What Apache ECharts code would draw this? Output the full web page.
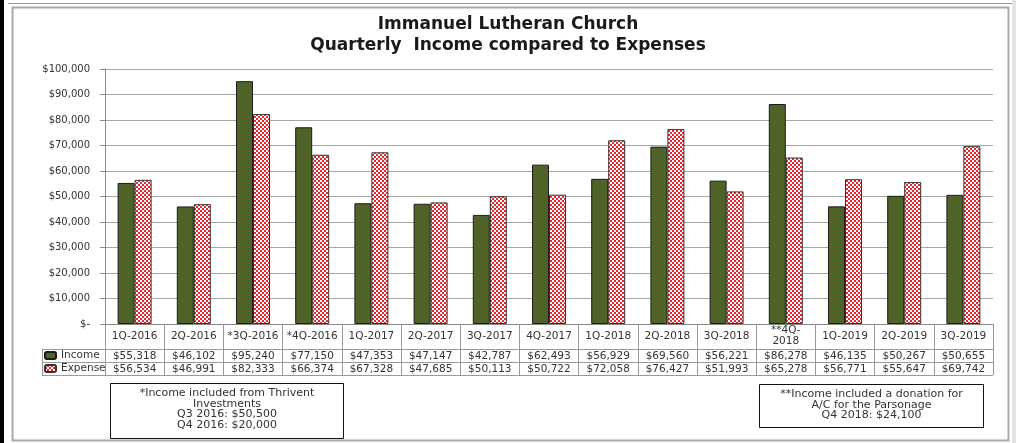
<!DOCTYPE html>
<html>
<head>
<meta charset="utf-8">
<title>Immanuel Lutheran Church</title>
<script src="https://cdn.jsdelivr.net/npm/echarts@6.0.0/dist/echarts.min.js"></script>
<style>
    html, body { margin: 0; padding: 0; background: #fff; }
    #chartBox { width: 1016px; height: 443px; }
</style>
</head>
<body>
<div id="chartBox"></div>
<script>
// 季度分类
var quarters = ['1Q-2016', '2Q-2016', '*3Q-2016', '*4Q-2016', '1Q-2017', '2Q-2017', '3Q-2017', '4Q-2017',
    '1Q-2018', '2Q-2018', '3Q-2018', '**4Q-\n2018', '1Q-2019', '2Q-2019', '3Q-2019'];
// 收入
var income = [55318, 46102, 95240, 77150, 47353, 47147, 42787, 62493, 56929, 69560, 56221, 86278, 46135, 50267, 50655];
// 支出
var expense = [56534, 46991, 82333, 66374, 67328, 47685, 50113, 50722, 72058, 76427, 51993, 65278, 56771, 55647, 69742];
// y轴刻度
var yTicks = [0, 10000, 20000, 30000, 40000, 50000, 60000, 70000, 80000, 90000, 100000];
// 备注
var noteLeft = ['*Income included from Thrivent', 'Investments', 'Q3 2016: $50,500', 'Q4 2016: $20,000'];
var noteRight = ['**Income included a donation for', 'A/C for the Parsonage', 'Q4 2018: $24,100'];

var FONT = 'DejaVu Sans';
var TABLE_SIZE = 10.5;

function money(v) {
    return '$' + v.toLocaleString('en-US');
}

// 红白格子填充
function checker() {
    var c = document.createElement('canvas');
    c.width = 4;
    c.height = 4;
    var ctx = c.getContext('2d');
    ctx.fillStyle = '#e8262e';
    ctx.fillRect(0, 0, 4, 4);
    ctx.fillStyle = '#ffffff';
    ctx.fillRect(0, 0, 2, 2);
    ctx.fillRect(2, 2, 2, 2);
    return { image: c, repeat: 'repeat' };
}

// 表格下面的行（用轴标签来画）
function rowAxis(offset, values) {
    return {
        type: 'category',
        data: quarters,
        position: 'bottom',
        offset: offset,
        axisLine: { show: false },
        axisTick: { show: false },
        axisLabel: {
            interval: 0,
            margin: 7,
            verticalAlign: 'middle',
            fontFamily: FONT,
            fontSize: TABLE_SIZE,
            color: '#333',
            formatter: function (v, i) { return money(values[i]); }
        }
    };
}

function hLine(x1, x2, y) {
    return { type: 'line', shape: { x1: x1, y1: y, x2: x2, y2: y }, style: { stroke: '#999', lineWidth: 1 }, silent: true };
}

function noteBox(x, y, w, h, lines) {
    return {
        type: 'group',
        children: [
            { type: 'rect', shape: { x: x, y: y, width: w, height: h }, style: { fill: '#fff', stroke: '#111', lineWidth: 1 } },
            {
                type: 'text',
                x: x + w / 2,
                y: y + 4,
                style: {
                    text: lines.join('\n'),
                    align: 'center',
                    verticalAlign: 'top',
                    fontFamily: FONT,
                    fontSize: 11,
                    lineHeight: 10.8,
                    fill: '#333'
                }
            }
        ]
    };
}

var myChart = echarts.init(document.getElementById('chartBox'));

var option = {
    animation: false,
    backgroundColor: '#fff',
    title: {
        text: 'Immanuel Lutheran Church\nQuarterly  Income compared to Expenses',
        left: 'center',
        top: 9,
        textStyle: { fontFamily: FONT, fontWeight: 'bold', fontSize: 17, lineHeight: 21, color: '#1a1a1a' }
    },
    legend: {
        orient: 'vertical',
        left: 44,
        top: 349,
        padding: 0,
        itemGap: 0,
        itemWidth: 11,
        itemHeight: 7,
        textStyle: { fontFamily: FONT, fontSize: TABLE_SIZE, lineHeight: 13, color: '#333' },
        data: ['Income', 'Expense']
    },
    grid: { left: 105, top: 69, width: 888, height: 255, containLabel: false },
    xAxis: [
        {
            type: 'category',
            data: quarters,
            position: 'bottom',
            axisLine: { lineStyle: { color: '#888' } },
            axisTick: { show: true, interval: 0, length: 51, lineStyle: { color: '#999' } },
            axisLabel: {
                interval: 0,
                margin: 12,
                verticalAlign: 'middle',
                fontFamily: FONT,
                fontSize: TABLE_SIZE,
                lineHeight: 11,
                color: '#333'
            }
        },
        rowAxis(25, income),
        rowAxis(38, expense)
    ],
    yAxis: {
        type: 'value',
        min: yTicks[0],
        max: yTicks[yTicks.length - 1],
        interval: yTicks[1] - yTicks[0],
        axisLine: { show: true, lineStyle: { color: '#888' } },
        axisTick: { show: true, length: 5, lineStyle: { color: '#888' } },
        splitLine: { lineStyle: { color: '#a6a6a6' } },
        axisLabel: {
            margin: 15,
            fontFamily: FONT,
            fontSize: 10,
            color: '#333',
            formatter: function (v) { return v === 0 ? '$-' : money(v); }
        }
    },
    series: [
        {
            name: 'Income',
            type: 'bar',
            data: income,
            barWidth: 17,
            barGap: '0%',
            itemStyle: { color: '#4f6228', borderColor: '#1c1c1c', borderWidth: 1 }
        },
        {
            name: 'Expense',
            type: 'bar',
            data: expense,
            barWidth: 17,
            barGap: '0%',
            itemStyle: { color: checker(), borderColor: '#333', borderWidth: 1 }
        }
    ],
    graphic: [
        // 左侧黑边和外框
        { type: 'rect', shape: { x: 0, y: 0, width: 4, height: 443 }, style: { fill: '#000' }, silent: true },
        hLine(8, 1016, 3.5),
        { type: 'rect', shape: { x: 12.5, y: 7.5, width: 996, height: 433 }, style: { fill: null, stroke: '#aaa', lineWidth: 2 }, silent: true },
        { type: 'rect', shape: { x: 1012, y: 0, width: 4, height: 443 }, style: { fill: '#e4e4e4' }, silent: true },
        // 数据表的横线
        hLine(42, 993, 349.5),
        hLine(42, 993, 362.5),
        hLine(42, 993, 375.5),
        { type: 'line', shape: { x1: 42.5, y1: 349.5, x2: 42.5, y2: 375.5 }, style: { stroke: '#999', lineWidth: 1 }, silent: true },
        // 备注框
        noteBox(110.5, 383.5, 233, 55, noteLeft),
        noteBox(759.5, 384.5, 224, 43, noteRight)
    ]
};

myChart.setOption(option);
window.addEventListener('resize', function () {
    myChart.resize();
});
</script>
</body>
</html>
